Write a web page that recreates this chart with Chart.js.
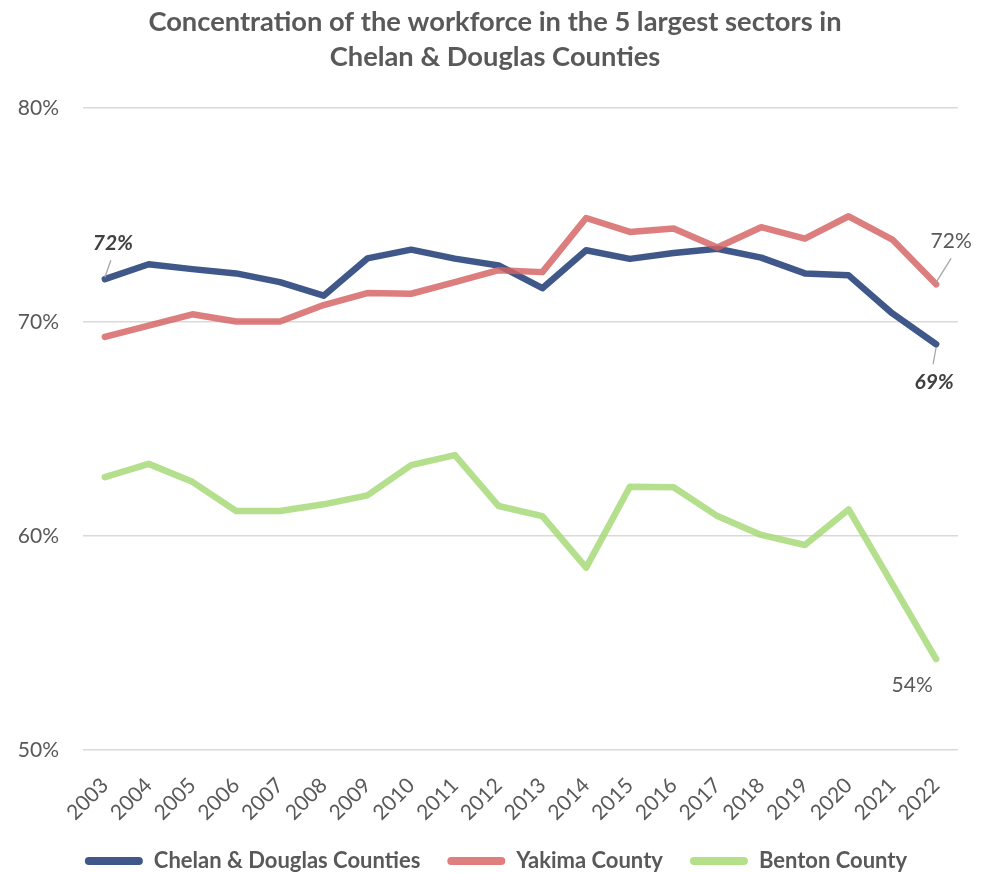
<!DOCTYPE html>
<html>
<head>
<meta charset="utf-8">
<script src="https://cdn.jsdelivr.net/npm/chart.js@4/dist/chart.umd.min.js"></script>
<style>
html,body{margin:0;padding:0;background:#fff;}
#wrap{width:986px;height:873px;position:relative;}
</style>
</head>
<body>
<div id="wrap"><canvas id="c" width="986" height="873"></canvas></div>
<script>
const years = ["2003","2004","2005","2006","2007","2008","2009","2010","2011","2012","2013","2014","2015","2016","2017","2018","2019","2020","2021","2022"];
const chelanDouglas = [72.0,72.70,72.47,72.27,71.86,71.23,72.97,73.38,72.96,72.64,71.58,73.35,72.95,73.22,73.42,73.01,72.27,72.18,70.40,68.96];
const yakima = [69.30,69.83,70.36,70.02,70.02,70.79,71.35,71.32,71.86,72.42,72.33,74.86,74.21,74.37,73.48,74.43,73.90,74.94,73.85,71.76];
const benton = [62.75,63.37,62.53,61.17,61.17,61.48,61.90,63.31,63.78,61.40,60.93,58.52,62.30,62.28,60.93,60.05,59.58,61.24,57.75,54.25];
const yTicks = [50,60,70,80];

const FONT = "Lato, 'Open Sans', sans-serif";
const GRAY = "#595959";

const labelPlugin = {
  id: 'endLabels',
  afterDatasetsDraw(chart) {
    const ctx = chart.ctx;
    const specs = [
      {ds:0, idx:0, text:'72%', bold:true, dx:8, dy:-36, lx1:0, ly1:-2, lx2:6, ly2:-19},
      {ds:0, idx:19, text:'69%', bold:true, dx:-2, dy:38, lx1:0, ly1:3, lx2:-3, ly2:20},
      {ds:1, idx:19, text:'72%', bold:false, dx:15, dy:-43, lx1:0, ly1:-2, lx2:15, ly2:-26},
      {ds:2, idx:19, text:'54%', bold:false, dx:-24, dy:26, lx1:null}
    ];
    ctx.save();
    specs.forEach(s => {
      const pt = chart.getDatasetMeta(s.ds).data[s.idx];
      if (s.lx1 !== null) {
        ctx.strokeStyle = '#A6A6A6';
        ctx.lineWidth = 1.3;
        ctx.beginPath();
        ctx.moveTo(pt.x + s.lx1, pt.y + s.ly1);
        ctx.lineTo(pt.x + s.lx2, pt.y + s.ly2);
        ctx.stroke();
      }
      ctx.font = (s.bold ? 'italic bold ' : '') + '21px ' + FONT;
      ctx.fillStyle = s.bold ? '#404040' : GRAY;
      ctx.textAlign = 'center';
      ctx.textBaseline = 'middle';
      ctx.fillText(s.text, pt.x + s.dx, pt.y + s.dy);
    });
    ctx.restore();
  }
};

// centre title and legend on the same line as the reference
const shiftPlugin = {
  id: 'shiftBoxes',
  afterLayout(chart) {
    if (chart.legend) { chart.legend.left += 17; chart.legend.right += 17; }
    if (chart.titleBlock) { chart.titleBlock.left += 16; chart.titleBlock.right += 16; }
  }
};

new Chart(document.getElementById('c'), {
  type: 'line',
  data: {
    labels: years,
    datasets: [
      {label:'Chelan & Douglas Counties', data: chelanDouglas, borderColor:'#3F5889', backgroundColor:'#3F5889', borderWidth:6.5, pointRadius:0, order:3, borderCapStyle:'round', borderJoinStyle:'round', tension:0},
      {label:'Yakima County', data: yakima, borderColor:'rgba(214,98,98,0.82)', backgroundColor:'#E07D7D', borderWidth:6.5, pointRadius:0, order:1, borderCapStyle:'round', borderJoinStyle:'round', tension:0},
      {label:'Benton County', data: benton, borderColor:'rgba(164,216,116,0.82)', backgroundColor:'#B4E08A', borderWidth:6.5, pointRadius:0, order:2, borderCapStyle:'round', borderJoinStyle:'round', tension:0}
    ]
  },
  options: {
    responsive: false,
    animation: false,
    layout: {padding: {left: 0, right: 28, top: 4, bottom: 0}},
    plugins: {
      title: {
        display: true,
        text: ['Concentration of the workforce in the 5 largest sectors in', 'Chelan & Douglas Counties'],
        color: GRAY,
        font: {family: FONT, size: 27.3, weight: 'bold', lineHeight: 1.3},
        padding: {top: 0, bottom: 33}
      },
      legend: {
        position: 'bottom',
        maxHeight: 50,
        labels: {
          color: GRAY,
          font: {family: FONT, size: 22, weight: 'bold'},
          boxWidth: 58,
          boxHeight: 8,
          padding: 27,
          generateLabels(chart) {
            return chart.data.datasets.map((d, i) => ({
              text: d.label,
              fillStyle: d.backgroundColor,
              strokeStyle: d.backgroundColor,
              lineWidth: 0,
              borderRadius: 4,
              fontColor: GRAY,
              datasetIndex: i,
              hidden: false
            }));
          }
        }
      },
      tooltip: {enabled: false}
    },
    scales: {
      x: {
        offset: true,
        grid: {display: false},
        border: {display: false},
        afterFit(scale) { scale.height = 73; },
        ticks: {color: GRAY, font: {family: FONT, size: 21}, maxRotation: 45, minRotation: 45, padding: 15}
      },
      y: {
        min: 50, max: 80,
        afterBuildTicks(scale) { scale.ticks = yTicks.map(v => ({value: v})); },
        afterFit(scale) { scale.width = 83; },
        grid: {color: '#D9D9D9', lineWidth: 1.5, drawTicks: false},
        border: {display: false},
        ticks: {color: GRAY, font: {family: FONT, size: 21}, padding: 24, callback: v => v + '%'}
      }
    }
  },
  plugins: [labelPlugin, shiftPlugin]
});
</script>
</body>
</html>
